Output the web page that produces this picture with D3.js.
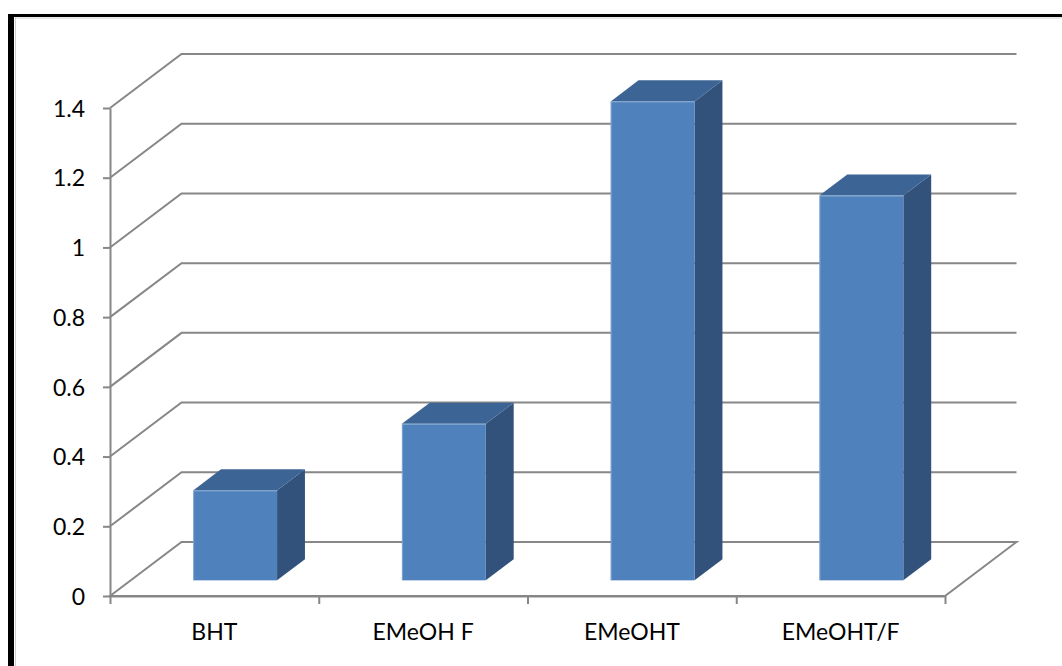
<!DOCTYPE html>
<html>
<head>
<meta charset="utf-8">
<script src="https://cdn.jsdelivr.net/npm/d3@7"></script>
<style>
  html, body { margin: 0; padding: 0; background: #fff; }
  svg { display: block; }
  text { font-family: Lato, "Open Sans", sans-serif; font-size: 23px; fill: #000; }
</style>
</head>
<body>
<svg id="chart" width="1062" height="666"></svg>
<script>
// Chart data
const categories = ["BHT", "EMeOH F", "EMeOHT", "EMeOHT/F"];
const values = [0.258, 0.449, 1.374, 1.104];
const yTicks = [0, 0.2, 0.4, 0.6, 0.8, 1, 1.2, 1.4];
const yTickLabels = ["0", "0.2", "0.4", "0.6", "0.8", "1", "1.2", "1.4"];

const svg = d3.select("#chart");

// Plot frame (front plane) and oblique depth vector
const x0 = 110, x1 = 945, yBase = 596, yTop = 108;
const depth = { dx: 71.5, dy: -54 };
const barFront = 0.29;   // fraction of depth where the column front sits
const barDepth = 0.39;   // column thickness as a fraction of depth

const y = d3.scaleLinear().domain([0, 1.4]).range([yBase, yTop]);
const x = d3.scaleBand().domain(categories).range([x0, x1])
  .paddingInner(0.598).paddingOuter(0.299);
const xEdge = d3.scaleLinear().domain([0, categories.length]).range([x0, x1]);

// Outer border of the chart area
const frame = svg.append("g");
frame.append("rect").attr("x", 8).attr("y", 14).attr("width", 6).attr("height", 652).attr("fill", "#000");
frame.append("rect").attr("x", 8).attr("y", 14).attr("width", 1054).attr("height", 3).attr("fill", "#000");
frame.append("line").attr("x1", 15.5).attr("y1", 17).attr("x2", 15.5).attr("y2", 666)
  .attr("stroke", "#d0d0d0").attr("stroke-width", 1);
frame.append("line").attr("x1", 15).attr("y1", 18).attr("x2", 1062).attr("y2", 18)
  .attr("stroke", "#d0d0d0").attr("stroke-width", 1);

// Gridlines: side-wall diagonal plus back-wall horizontal
const gridColor = "#878787";
const grid = svg.append("g").attr("fill", "none").attr("stroke", gridColor).attr("stroke-width", 2);
yTicks.filter(v => v > 0).forEach(v => {
  const yy = y(v);
  grid.append("polyline").attr("points", [
    [x0, yy], [x0 + depth.dx, yy + depth.dy], [x1 + depth.dx, yy + depth.dy]
  ].map(p => p.join(",")).join(" "));
});
// Floor outline
grid.append("polygon").attr("points", [
  [x0, yBase], [x0 + depth.dx, yBase + depth.dy], [x1 + depth.dx, yBase + depth.dy], [x1, yBase]
].map(p => p.join(",")).join(" "));

// Y axis
const yAxis = d3.axisLeft(y).tickValues(yTicks).tickSize(7).tickSizeOuter(0).tickPadding(18)
  .tickFormat((d, i) => yTickLabels[i]);
const gy = svg.append("g").attr("transform", `translate(${x0},0)`).call(yAxis);
gy.select(".domain").attr("stroke", gridColor).attr("stroke-width", 2);
gy.selectAll(".tick line").attr("stroke", gridColor).attr("stroke-width", 2);
gy.selectAll(".tick text").attr("font-size", 23).attr("font-family", "Lato, sans-serif")
  .attr("fill", "#000").attr("dy", "0.36em");

// X axis: tick marks at category boundaries, labels at category centres
const xAxis = d3.axisBottom(xEdge).tickValues(d3.range(categories.length + 1))
  .tickSize(8).tickSizeOuter(0).tickFormat("");
const gx = svg.append("g").attr("transform", `translate(0,${yBase})`).call(xAxis);
gx.select(".domain").attr("stroke", gridColor).attr("stroke-width", 2);
gx.selectAll(".tick line").attr("stroke", gridColor).attr("stroke-width", 2);

svg.append("g").selectAll("text").data(categories).join("text")
  .attr("x", (d, i) => (xEdge(i) + xEdge(i + 1)) / 2)
  .attr("y", 640)
  .attr("text-anchor", "middle")
  .text(d => d);

// 3D columns
const fx = depth.dx * barFront, fy = depth.dy * barFront;
const bx = depth.dx * barDepth, by = depth.dy * barDepth;
const bars = svg.append("g").selectAll("g").data(categories.map((c, i) => ({ c, v: values[i] }))).join("g");

bars.each(function(d) {
  const g = d3.select(this);
  const L = x(d.c) + fx, R = L + x.bandwidth();
  const T = y(d.v) + fy, B = y(0) + fy;
  // right side face
  g.append("polygon").attr("fill", "#32527b").attr("points", [
    [R, T], [R + bx, T + by], [R + bx, B + by], [R, B]
  ].map(p => p.join(",")).join(" "));
  // top face
  g.append("polygon").attr("fill", "#3c6494").attr("points", [
    [L, T], [L + bx, T + by], [R + bx, T + by], [R, T]
  ].map(p => p.join(",")).join(" "));
  // front face
  g.append("rect").attr("fill", "#4f81bd")
    .attr("x", L).attr("y", T).attr("width", R - L).attr("height", B - T);
  // soft highlight along the front top and left edges
  g.append("polyline").attr("fill", "none").attr("stroke", "#a9c1de").attr("stroke-opacity", 0.6)
    .attr("stroke-width", 1)
    .attr("points", [[L + 0.5, B], [L + 0.5, T + 0.5], [R, T + 0.5]].map(p => p.join(",")).join(" "));
});
</script>
</body>
</html>
